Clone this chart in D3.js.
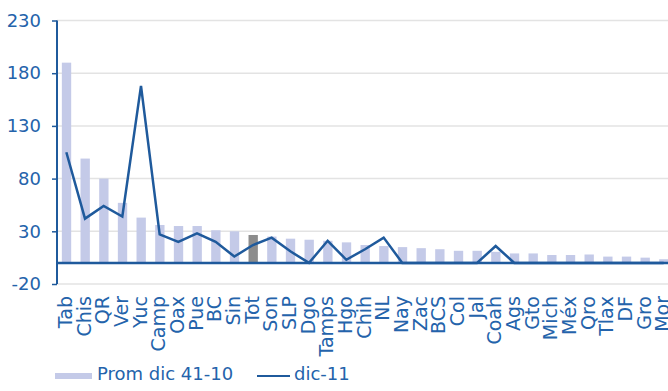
<!DOCTYPE html>
<html>
<head>
<meta charset="utf-8">
<script src="https://cdn.jsdelivr.net/npm/d3@7/dist/d3.min.js"></script>
<style>
  html, body { margin: 0; padding: 0; background: #ffffff; }
  svg { display: block; }
  text { font-family: "DejaVu Sans", sans-serif; }
</style>
</head>
<body>
<svg id="chart" width="668" height="391"></svg>
<script>
const categories = ["Tab","Chis","QR","Ver","Yuc","Camp","Oax","Pue","BC","Sin","Tot","Son","SLP","Dgo","Tamps","Hgo","Chih","NL","Nay","Zac","BCS","Col","Jal","Coah","Ags","Gto","Mich","Méx","Qro","Tlax","DF","Gro","Mor"];
const promValues = [190,99,80,57,43,36,35,35,31,30,26.5,25,23,22,21,19.5,17,16,15,14,13,11.5,11.5,10.5,9,9,7.5,7.5,8,6,6,5,3.5];
const dic11Values = [105,42,54,44,168,27,20,28,20,6,17,24,11,0,21,3,13,24,0,0,0,0,0,16,0,0,0,0,0,0,0,0,0];
const yTicks = [-20,30,80,130,180,230];
const seriesNames = ["Prom dic 41-10","dic-11"];
const highlight = "Tot";

const svg = d3.select("#chart");
const blue = "#1f5a9c";
const labelBlue = "#2463ab";
const barColor = "#c4cae8";
const grayBar = "#8c8c8c";

const x = d3.scaleBand().domain(categories).range([57, 673]).paddingInner(0).paddingOuter(0);
const y = d3.scaleLinear().domain([-20, 230]).range([284, 20.5]);
const bw = x.bandwidth();

// gridlines
svg.append("g").selectAll("line").data(yTicks).join("line")
  .attr("x1", 57).attr("x2", 668)
  .attr("y1", d => y(d)).attr("y2", d => y(d))
  .attr("stroke", "#e3e3e3").attr("stroke-width", 1.5);

// bars
svg.append("g").selectAll("rect").data(categories).join("rect")
  .attr("x", d => x(d) + bw * 0.26)
  .attr("width", bw * 0.5)
  .attr("y", (d, i) => y(promValues[i]))
  .attr("height", (d, i) => y(0) - y(promValues[i]))
  .attr("fill", d => d === highlight ? grayBar : barColor);

// y axis
const yAxis = d3.axisLeft(y).tickValues(yTicks).tickSize(5).tickPadding(11).tickFormat(d => String(d));
const ga = svg.append("g").attr("transform", "translate(57,0)").call(yAxis);
ga.select(".domain").attr("stroke", blue).attr("stroke-width", 2).attr("d", `M0,${y(230)}V${y(-20)}`);
ga.selectAll(".tick line").attr("stroke", blue).attr("stroke-width", 1.5);
ga.selectAll(".tick text").attr("fill", labelBlue).attr("font-size", 18)
  .attr("font-family", "DejaVu Sans, sans-serif");

// zero line
svg.append("line").attr("x1", 57).attr("x2", 668)
  .attr("y1", y(0)).attr("y2", y(0))
  .attr("stroke", blue).attr("stroke-width", 2.5);

// data line
const line = d3.line()
  .x((d, i) => x(categories[i]) + bw / 2)
  .y(d => y(d));
svg.append("path").datum(dic11Values)
  .attr("d", line).attr("fill", "none")
  .attr("stroke", blue).attr("stroke-width", 2.5).attr("stroke-linejoin", "miter");

// x labels
svg.append("g").selectAll("text").data(categories).join("text")
  .attr("transform", d => `translate(${x(d) + bw / 2},296) rotate(-90)`)
  .attr("text-anchor", "end")
  .attr("dy", "0.3em")
  .attr("font-size", 19)
  .attr("fill", labelBlue)
  .text(d => d);

// legend
const lg = svg.append("g");
lg.append("rect").attr("x", 55).attr("y", 373).attr("width", 37).attr("height", 6).attr("fill", barColor);
lg.append("text").attr("x", 97).attr("y", 380).attr("font-size", 18).attr("fill", labelBlue).text(seriesNames[0]);
lg.append("line").attr("x1", 257).attr("x2", 290).attr("y1", 376).attr("y2", 376).attr("stroke", blue).attr("stroke-width", 2);
lg.append("text").attr("x", 294).attr("y", 380).attr("font-size", 18).attr("fill", labelBlue).text(seriesNames[1]);
</script>
</body>
</html>
